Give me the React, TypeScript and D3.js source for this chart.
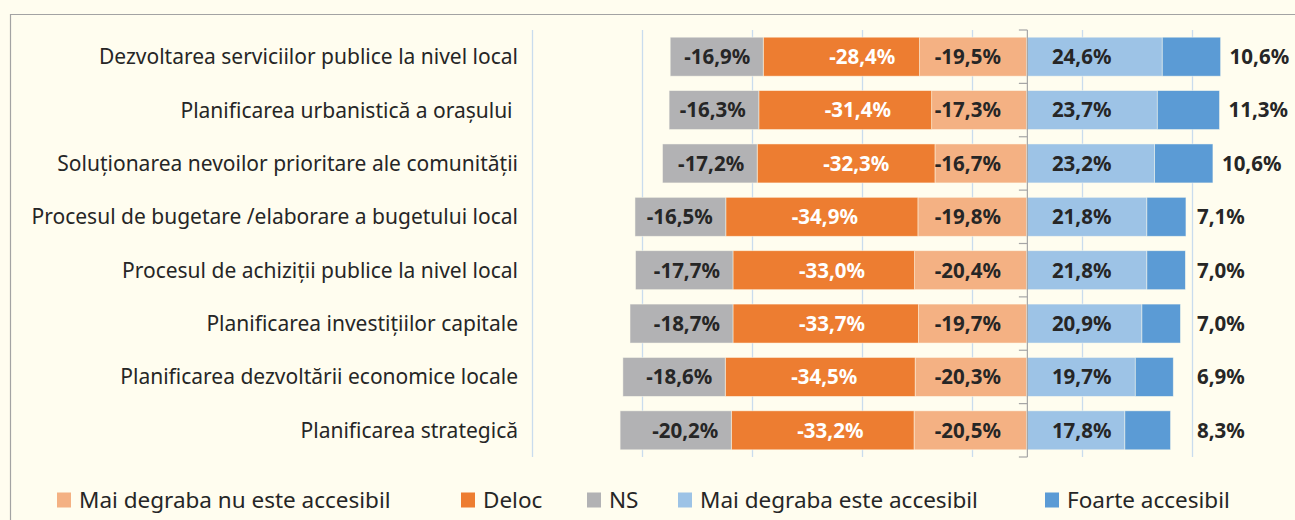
import React from "react";
import * as d3 from "d3";

// categories (top to bottom)
const categories = [
  "Dezvoltarea serviciilor publice la nivel local",
  "Planificarea urbanistică a orașului ",
  "Soluționarea nevoilor prioritare ale comunității",
  "Procesul de bugetare /elaborare a bugetului local",
  "Procesul de achiziții publice la nivel local",
  "Planificarea investițiilor capitale",
  "Planificarea dezvoltării economice locale",
  "Planificarea strategică",
];

// negative side
const maiNu = [19.5, 17.3, 16.7, 19.8, 20.4, 19.7, 20.3, 20.5];
const deloc = [28.4, 31.4, 32.3, 34.9, 33.0, 33.7, 34.5, 33.2];
const ns = [16.9, 16.3, 17.2, 16.5, 17.7, 18.7, 18.6, 20.2];
// positive side
const maiDa = [24.6, 23.7, 23.2, 21.8, 21.8, 20.9, 19.7, 17.8];
const foarte = [10.6, 11.3, 10.6, 7.1, 7.0, 7.0, 6.9, 8.3];

const seriesNames = [
  "Mai degraba nu este accesibil",
  "Deloc",
  "NS",
  "Mai degraba este accesibil",
  "Foarte accesibil",
];
const gridTicks = [-90, -70, -50, -30, -10, 10, 30];

const colors = ["#f4b183", "#ed7d31", "#b2b2b4", "#9dc3e6", "#5b9bd5"];
const labelColors = ["#262626", "#ffffff", "#262626", "#262626", "#262626"];
const legendX = [57, 461, 587, 678, 1045];

const W = 1295;
const H = 520;
const font = "'Noto Sans', 'Open Sans', sans-serif";
const txt = "#262626";

const fmt = (v: number) => v.toFixed(1).replace(".", ",") + "%";

export default function App() {
  const keys = ["maiNu", "deloc", "ns", "maiDa", "foarte"];
  const table = categories.map((c, i) => ({
    cat: c,
    maiNu: -maiNu[i],
    deloc: -deloc[i],
    ns: -ns[i],
    maiDa: maiDa[i],
    foarte: foarte[i],
  }));

  const stack = d3
    .stack<any>()
    .keys(keys)
    .offset(d3.stackOffsetDiverging);
  const series = stack(table);

  const x = d3.scaleLinear().domain([-90, 30]).range([531.5, 1192]);
  const y = d3
    .scaleBand()
    .domain(categories)
    .range([30, 457])
    .paddingInner(0.27)
    .paddingOuter(0.135);

  const x0 = x(0);
  const step = y.step();
  const bw = y.bandwidth();

  // label x position per series (mimics the original label placement)
  const labelPos = (k: number, d: any) => {
    const a = x(d[0]);
    const b = x(d[1]);
    if (k === 0) return { x: x0 - 26, anchor: "end" };
    if (k === 1) return { x: a + 66, anchor: "start" };
    if (k === 2) return { x: b - 13, anchor: "end" };
    if (k === 3) return { x: x0 + 25, anchor: "start" };
    return { x: Math.max(b + 9, 1197), anchor: "start" };
  };

  return (
    <div style={{ position: "absolute", left: 0, top: 0 }}>
      <svg width={W} height={H} style={{ display: "block" }}>
        <rect x={0} y={0} width={W} height={H} fill="#fffdef" />
        <path d={`M10.5,${H} V14.5 H${W}`} fill="none" stroke="#a3a3a3" strokeWidth={1.2} />

        {/* gridlines */}
        {gridTicks.map((t) => (
          <line
            key={t}
            x1={Math.round(x(t)) + 0.5}
            x2={Math.round(x(t)) + 0.5}
            y1={30}
            y2={457}
            stroke="#c9dcee"
            strokeWidth={1.3}
          />
        ))}

        {/* bars */}
        {series.map((s, k) => (
          <g key={s.key} fill={colors[k]}>
            {s.map((d, i) => (
              <rect
                key={i}
                x={x(d[0])}
                y={y(categories[i])!}
                width={x(d[1]) - x(d[0])}
                height={bw}
                stroke="#fffdef"
                strokeOpacity={0.6}
                strokeWidth={0.8}
              />
            ))}
          </g>
        ))}

        {/* zero axis with ticks */}
        <line x1={x0 + 0.5} x2={x0 + 0.5} y1={30} y2={457} stroke="#a6a6a6" strokeWidth={1.2} />
        {d3.range(categories.length + 1).map((i) => (
          <line
            key={i}
            x1={x0 - 8}
            x2={x0 + 0.5}
            y1={30 + i * step}
            y2={30 + i * step}
            stroke="#a6a6a6"
            strokeWidth={1.2}
          />
        ))}

        {/* value labels */}
        {series.map((s, k) => (
          <g key={"l" + s.key}>
            {s.map((d, i) => {
              const p = labelPos(k, d);
              const v = d[1] - d[0];
              return (
                <text
                  key={i}
                  x={p.x}
                  y={y(categories[i])! + bw / 2}
                  dy="0.36em"
                  textAnchor={p.anchor as any}
                  fontFamily={font}
                  fontWeight="bold"
                  fontSize={20.5}
                  fill={labelColors[k]}
                >
                  {(k < 3 ? "-" : "") + fmt(v)}
                </text>
              );
            })}
          </g>
        ))}

        {/* category labels */}
        {categories.map((c) => (
          <text
            key={c}
            x={518}
            y={y(c)! + bw / 2}
            dy="0.36em"
            textAnchor="end"
            fontFamily={font}
            fontSize={21}
            fill={txt}
            style={{ whiteSpace: "pre" }}
          >
            {c}
          </text>
        ))}

        {/* legend */}
        {seriesNames.map((n, k) => (
          <g key={n} transform={`translate(${legendX[k]},500)`}>
            <rect x={0} y={-7.5} width={14} height={15} fill={colors[k]} />
            <text
              x={22}
              y={0}
              dy="0.36em"
              fontFamily={font}
              fontSize={22.5}
              fill={txt}
            >
              {n}
            </text>
          </g>
        ))}
      </svg>
    </div>
  );
}
